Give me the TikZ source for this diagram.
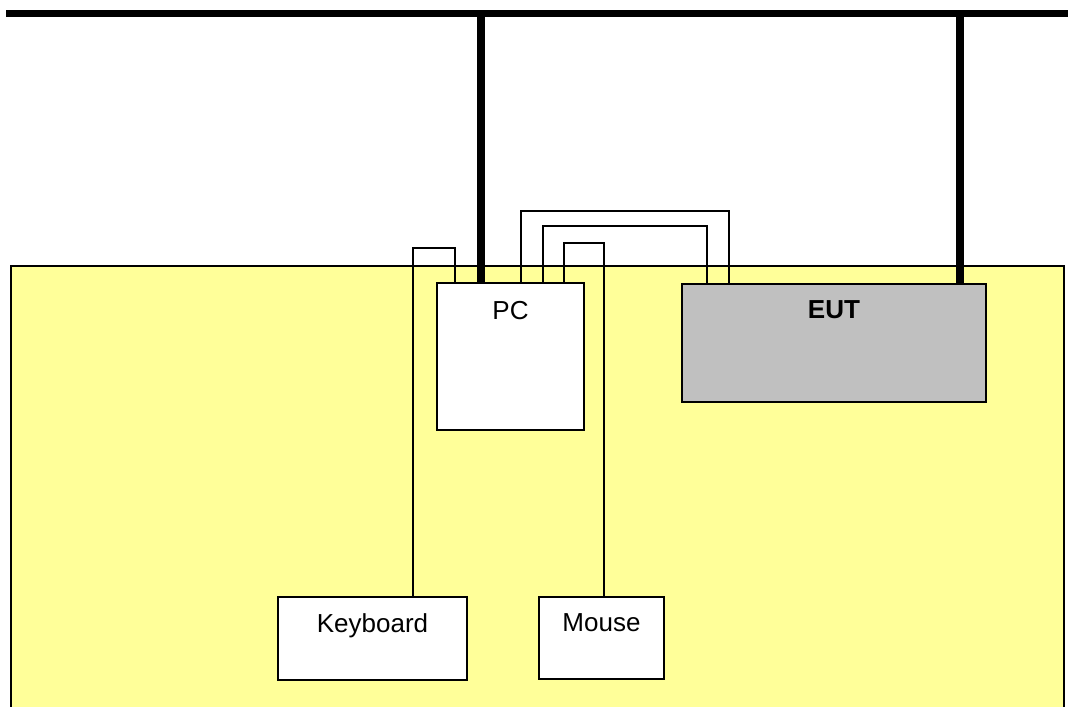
\documentclass[tikz,border=0pt]{standalone}
\usepackage{fontspec}
\setmainfont{Liberation Sans}
\usepackage{tikz}
\definecolor{tableyellow}{HTML}{FFFF99}
\definecolor{eutgray}{HTML}{C0C0C0}
\newcommand*{\px}{0.025cm}

\begin{document}
\begin{tikzpicture}[x=\px, y=-\px,
  box/.style={draw, line width=1.2pt, fill=white, inner sep=0pt},
  cable/.style={line width=0.8pt},
  bus/.style={line width=5pt},
  lbl/.style={font=\fontsize{18.5}{22}\selectfont}]
\useasboundingbox (0,0) rectangle (1068,706);
% table
\draw[fill=tableyellow, line width=0.8pt] (11,266) rectangle (1064,720);
% equipment
\node[box, minimum width=147*\px, minimum height=147*\px] (pc) at (510.5,356.5) {};
\node[box, fill=eutgray, minimum width=304*\px, minimum height=118*\px] (eut) at (834,343) {};
\node[box, minimum width=189*\px, minimum height=83*\px] (kb) at (372.5,638.5) {};
\node[box, minimum width=125*\px, minimum height=82*\px] (mouse) at (601.5,638) {};
% cables
\draw[cable] (pc.north -| 455,0) |- (413,248) -- (kb.north -| 413,0);
\draw[cable] (pc.north -| 521,0) |- (729,211) -- (eut.north -| 729,0);
\draw[cable] (pc.north -| 543,0) |- (707,226) -- (eut.north -| 707,0);
\draw[cable] (pc.north -| 564,0) |- (604,243) -- (mouse.north -| 604,0);
% labels
\node[lbl] at ([yshift=-28*\px]pc.north) {PC};
\node[lbl, font=\fontsize{18.5}{22}\selectfont\bfseries] at ([yshift=-27*\px]eut.north) {EUT};
\node[lbl] at ([yshift=-30*\px]kb.north) {Keyboard};
\node[lbl] at ([yshift=-27*\px]mouse.north) {Mouse};
% power bus
\coordinate (busL) at (6,13.5);
\coordinate (busR) at (1068,13.5);
\coordinate (pcbus) at (481,13.5);
\coordinate (eutbus) at (960,13.5);
\draw[bus] (busL) -- (busR);
\draw[bus] (pc.north -| pcbus) -- (pcbus);
\draw[bus] (eut.north -| eutbus) -- (eutbus);
\end{tikzpicture}
\end{document}
